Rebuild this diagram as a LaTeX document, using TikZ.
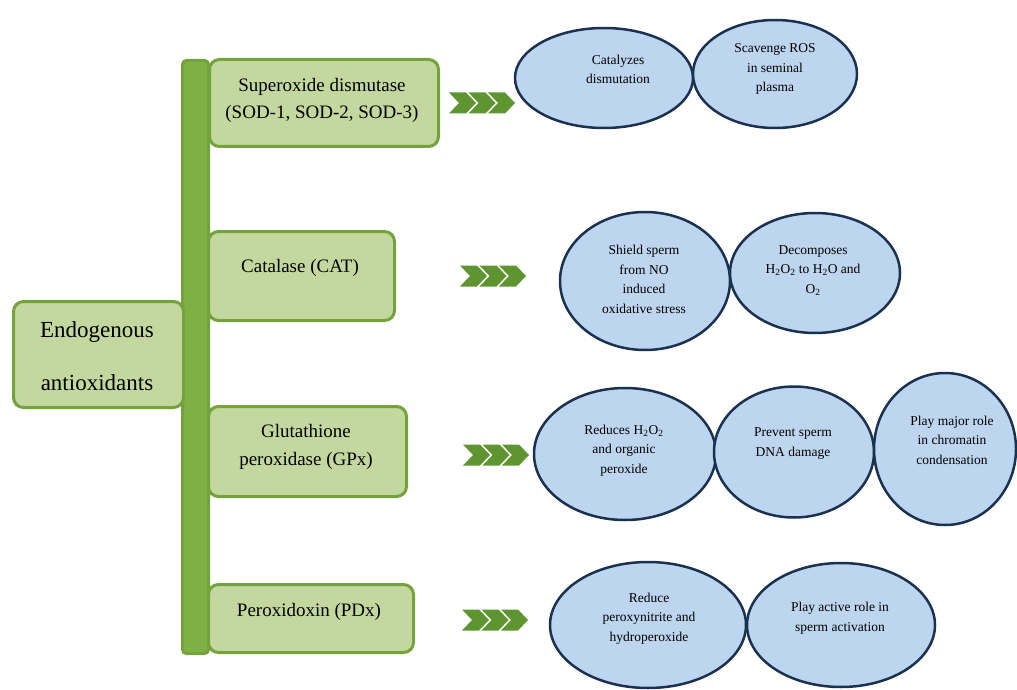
\documentclass[tikz,border=0pt]{standalone}
\usepackage{fontspec}
\setmainfont{Liberation Serif}
\usetikzlibrary{shapes.geometric}

\definecolor{boxfill}{HTML}{C3D89E}
\definecolor{boxline}{HTML}{74A23C}
\definecolor{barfill}{HTML}{7DB143}
\definecolor{chevgreen}{HTML}{5E9531}
\definecolor{ovalfill}{HTML}{BDD5EE}
\definecolor{ovalline}{HTML}{1B3150}

\begin{document}
\begin{tikzpicture}[x=1pt,y=-1pt,
   gbox/.style={draw=boxline,fill=boxfill,line width=3pt,rounded corners=10pt,anchor=north west,inner sep=0pt},
   btext/.style={anchor=base,align=center,inner sep=0pt,font=\fontsize{19}{27}\selectfont},
   oval/.style={ellipse,draw=ovalline,fill=ovalfill,line width=2.5pt,inner sep=0pt},
   otext/.style={anchor=base,align=center,inner sep=0pt,font=\fontsize{13.5}{19.5}\selectfont}]
   \useasboundingbox (0,0) rectangle (1017,690);

   % left part
   \node[gbox,draw=boxline,fill=barfill,rounded corners=4pt,minimum width=26,minimum height=593] (stem) at (181,59) {};
   \node[gbox,minimum width=170,minimum height=106] (endo) at (12,300) {};
   \node[btext,font=\fontsize{23}{53}\selectfont] (endot) at (97,390) {Endogenous\\antioxidants};

   \node[gbox,minimum width=229,minimum height=87] (sod) at (208,58) {};
   \node[btext] (sodt) at (322,119) {Superoxide dismutase\\(SOD-1, SOD-2, SOD-3)};
   \node[gbox,minimum width=186,minimum height=89] (cat) at (207,230) {};
   \node[btext] (catt) at (300,272) {Catalase (CAT)};
   \node[gbox,minimum width=198,minimum height=90] (gpx) at (207,405) {};
   \node[btext,font=\fontsize{19}{28}\selectfont] (gpxt) at (306,465) {Glutathione\\peroxidase (GPx)};
   \node[gbox,minimum width=205,minimum height=68] (pdx) at (207,583) {};
   \node[btext] (pdxt) at (309,616) {Peroxidoxin (PDx)};

   % chevrons
   \foreach \cx/\cy in {449/103,460/276,463/455,462/620}
      \foreach \k in {0,1,2}
         \fill[chevgreen] ({\cx+\k*19.5},{\cy-10.5}) -- ++(17,0) -- ++(10,10.5) -- ++(-10,10.5) -- ++(-17,0) -- ++(10,-10.5) -- cycle;

   % superoxide dismutase
   \node[oval,minimum width=178,minimum height=100] (sodA) at (604,78) {};
   \node[oval,minimum width=164,minimum height=108] (sodB) at (775,74) {};
   \node[otext] (sodAt) at (618,84) {Catalyzes\\dismutation};
   \node[otext] (sodBt) at (775,92) {Scavenge ROS\\in seminal\\plasma};

   % catalase
   \node[oval,minimum width=170,minimum height=138] (catA) at (645,281) {};
   \node[oval,minimum width=170,minimum height=120] (catB) at (815,273) {};
   \node[otext] (catAt) at (644,313) {Shield sperm\\from NO\\induced\\oxidative stress};
   \node[otext] (catBt) at (813,293) {Decomposes\\H\textsubscript{2}O\textsubscript{2} to H\textsubscript{2}O and\\O\textsubscript{2}};

   % glutathione peroxidase
   \node[oval,minimum width=182,minimum height=132] (gpxA) at (625,454) {};
   \node[oval,minimum width=160,minimum height=131] (gpxB) at (794,452) {};
   \node[oval,minimum width=142,minimum height=152] (gpxC) at (945,449) {};
   \node[otext] (gpxAt) at (624,473) {Reduces H\textsubscript{2}O\textsubscript{2}\\and organic\\peroxide};
   \node[otext] (gpxBt) at (793,456) {Prevent sperm\\DNA damage};
   \node[otext] (gpxCt) at (952,464) {Play major role\\in chromatin\\condensation};

   % peroxidoxin
   \node[oval,minimum width=196,minimum height=126] (pdxA) at (648,625) {};
   \node[oval,minimum width=188,minimum height=124] (pdxB) at (841,625) {};
   \node[otext] (pdxAt) at (649,641) {Reduce\\peroxynitrite and\\hydroperoxide};
   \node[otext] (pdxBt) at (840,631) {Play active role in\\sperm activation};
\end{tikzpicture}
\end{document}
